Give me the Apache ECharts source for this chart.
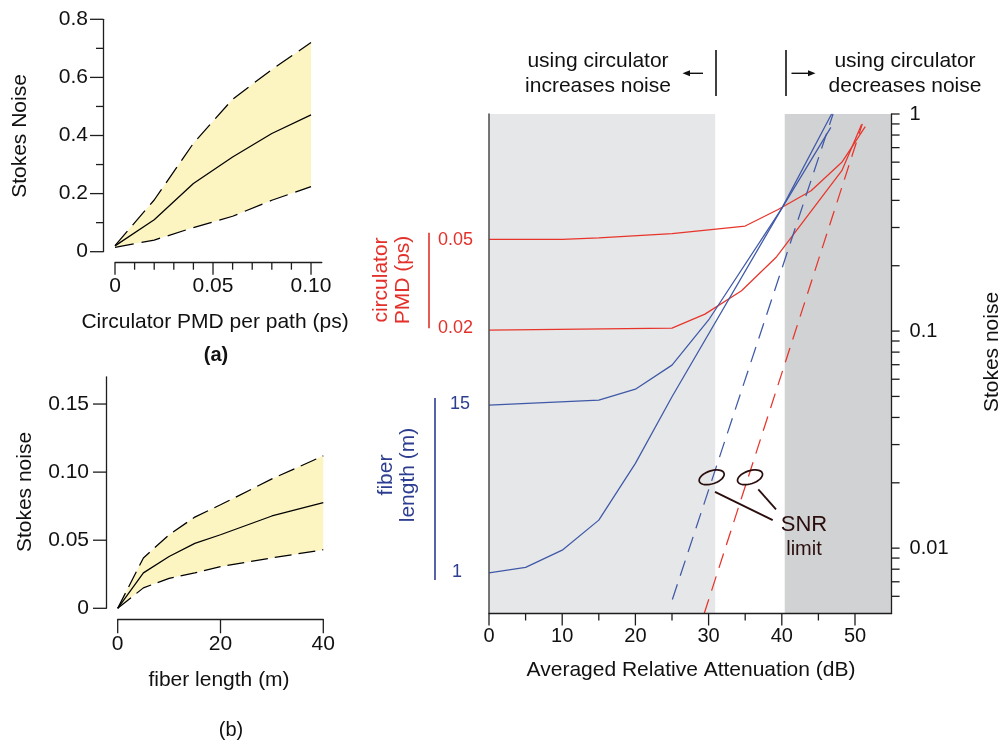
<!DOCTYPE html>
<html><head><meta charset="utf-8">
<script src="https://cdn.jsdelivr.net/npm/echarts@6/dist/echarts.min.js"></script>
<style>html,body{margin:0;padding:0;background:#fff}#c{width:1001px;height:744px}</style>
</head><body><div id="c"></div>
<script>
// ---------- Panel (a) ----------
const aPmd   = [0, 0.02, 0.04, 0.06, 0.08, 0.10];
const aMean  = [0.020, 0.110, 0.235, 0.326, 0.407, 0.471];
const aUpper = [0.021, 0.178, 0.373, 0.525, 0.627, 0.720];
const aLower = [0.015, 0.040, 0.083, 0.122, 0.177, 0.224];
const aXTicks = [0, 0.05, 0.10];
const aXTickLabels = ['0', '0.05', '0.10'];
const aXMinorTicks = [0.01, 0.02, 0.03, 0.04, 0.06, 0.07, 0.08, 0.09];
const aYTicks = [0, 0.2, 0.4, 0.6, 0.8];
const aYTickLabels = ['0', '0.2', '0.4', '0.6', '0.8'];
const aYMinorTicks = [0.1, 0.3, 0.5, 0.7];

// ---------- Panel (b) ----------
const bLen   = [0, 5, 10, 15, 20, 30, 40];
const bMean  = [0, 0.026, 0.038, 0.0477, 0.054, 0.0678, 0.0776];
const bUpper = [0, 0.037, 0.054, 0.067, 0.076, 0.095, 0.112];
const bLower = [0, 0.015, 0.022, 0.026, 0.0306, 0.037, 0.043];
const bXTicks = [0, 20, 40];
const bXTickLabels = ['0', '20', '40'];
const bYTicks = [0, 0.05, 0.10, 0.15];
const bYTickLabels = ['0', '0.05', '0.10', '0.15'];

// ---------- Right panel ----------
const red05 = [[0, 0.2645], [10, 0.2645], [15, 0.2684], [25, 0.2813], [35, 0.3047], [39.5, 0.363], [44, 0.443], [48.2, 0.599], [51.4, 0.874]];
const red02 = [[0, 0.1011], [25, 0.1032], [29.5, 0.1197], [34.5, 0.1534], [39.3, 0.220], [48.2, 0.548], [50.9, 0.895]];
const blue15 = [[0, 0.0456], [15, 0.0481], [20, 0.054], [25, 0.0697], [30, 0.1125], [40, 0.3675], [46.7, 0.868]];
const blue1 = [[0, 0.00769], [5, 0.00815], [10, 0.00979], [15, 0.01346], [20, 0.02457], [25, 0.0498], [40, 0.3675], [46.8, 1.0]];
const blueSnr = [[25.05, 0.0058], [47.0, 1.0]];
const redSnr = [[29.4, 0.0050], [51.0, 0.90]];
const bandStart = [0, 40.4];
const bandEnd = [30.9, 55];
const cXTicks = [0, 10, 20, 30, 40, 50];
const cXTickLabels = ['0', '10', '20', '30', '40', '50'];
const cXMinorTicks = [5, 15, 25, 35, 45];
const cYTicks = [1, 0.1, 0.01];
const cYTickLabels = ['1', '0.1', '0.01'];
const cYMinorTicks = [0.9, 0.8, 0.7, 0.6, 0.5, 0.4, 0.3, 0.2, 0.09, 0.08, 0.07, 0.06, 0.05, 0.04, 0.03, 0.02, 0.009, 0.008, 0.007, 0.006];
const snrLoops = [[30.42, 0.0212], [35.66, 0.0212]];
const snrLeaders = [[[30.87, 0.01817], [38.76, 0.01346]], [[36.79, 0.01864], [39.21, 0.01508]]];
const snrText = [[43.03, 0.01286, 'SNR'], [43.03, 0.00986, 'limit']];

// ---------- styles ----------
const FONT = '"Liberation Sans", Arial, Helvetica, sans-serif';
const AXIS = '#1e1e1e';
const YELLOW = '#fcf4c1';
const RED = '#e8352b';
const BLUE = '#3f59a8';
const BLUE_TXT = '#2d3d90';
const RED_TXT = '#e3302a';
const BROWN = '#2a0d0d';

function labelFor(ticks, labels) {
  return function (v) {
    for (let i = 0; i < ticks.length; i++) {
      if (Math.abs(v - ticks[i]) <= 1e-9 + Math.abs(ticks[i]) * 1e-6) return labels[i];
    }
    return '';
  };
}

function tickSeries(xi, yi, pts, dir, off) {
  return {
    type: 'custom', xAxisIndex: xi, yAxisIndex: yi, clip: false, silent: true, z: 6,
    data: pts,
    renderItem: function (params, api) {
      const p = api.coord([api.value(0), api.value(1)]);
      const L = api.value(2);
      let s;
      if (dir === 'down') s = { x1: p[0], y1: p[1] + off, x2: p[0], y2: p[1] + off + L };
      else if (dir === 'left') s = { x1: p[0] - off, y1: p[1], x2: p[0] - off - L, y2: p[1] };
      else s = { x1: p[0] + off, y1: p[1], x2: p[0] + off + L, y2: p[1] };
      return { type: 'line', shape: s, style: { stroke: AXIS, lineWidth: 1.3 } };
    }
  };
}

function bandFill(xi, yi, xs, up, lo) {
  return {
    type: 'custom', xAxisIndex: xi, yAxisIndex: yi, clip: false, silent: true, z: 1,
    data: [[xs[0], lo[0]]],
    renderItem: function (params, api) {
      const top = xs.map((x, i) => api.coord([x, up[i]]));
      const bot = xs.map((x, i) => api.coord([x, lo[i]])).reverse();
      return { type: 'polygon', shape: { points: top.concat(bot) }, style: { fill: YELLOW } };
    }
  };
}

function lineSeries(xi, yi, data, color, dash) {
  return {
    type: 'line', xAxisIndex: xi, yAxisIndex: yi, data: data, symbol: 'none', showSymbol: false,
    smooth: false, clip: false, silent: true, z: 4, animation: false,
    lineStyle: { color: color, width: 1.25, type: dash || 'solid' }
  };
}

const zip = (xs, ys) => xs.map((x, i) => [x, ys[i]]);

const axisLineStyle = { show: true, onZero: false, lineStyle: { color: AXIS, width: 1.3 } };
const noSplit = { show: false };

const option = {
  animation: false,
  backgroundColor: '#fff',
  textStyle: { fontFamily: FONT },
  grid: [
    { left: 115, top: 19.3, width: 206.8, height: 232.4, outerBoundsMode: 'none' },
    { left: 117.7, top: 376.8, width: 205.6, height: 231.5, outerBoundsMode: 'none' },
    { left: 489, top: 114, width: 402.6, height: 499.5, outerBoundsMode: 'none' }
  ],
  xAxis: [
    { gridIndex: 0, type: 'value', min: 0, max: 0.1055, interval: 0.05, offset: 11, z: 10,
      axisLine: axisLineStyle, axisTick: { show: false }, splitLine: noSplit,
      axisLabel: { margin: 13, fontSize: 21, color: '#111', fontFamily: FONT, formatter: labelFor(aXTicks, aXTickLabels) } },
    { gridIndex: 1, type: 'value', min: 0, max: 40, interval: 20, offset: 11, z: 10,
      axisLine: axisLineStyle, axisTick: { show: false }, splitLine: noSplit,
      axisLabel: { margin: 14, fontSize: 21, color: '#111', fontFamily: FONT, formatter: labelFor(bXTicks, bXTickLabels) } },
    { gridIndex: 2, type: 'value', min: 0, max: 55, interval: 10, z: 10,
      axisLine: axisLineStyle, axisTick: { show: false }, splitLine: noSplit,
      axisLabel: { margin: 13, fontSize: 20, color: '#111', fontFamily: FONT, formatter: labelFor(cXTicks, cXTickLabels) } }
  ],
  yAxis: [
    { gridIndex: 0, type: 'value', min: 0, max: 0.8, interval: 0.2, offset: 12, z: 10,
      axisLine: axisLineStyle, axisTick: { show: false }, splitLine: noSplit,
      axisLabel: { margin: 15, fontSize: 21, color: '#111', fontFamily: FONT, formatter: labelFor(aYTicks, aYTickLabels) } },
    { gridIndex: 1, type: 'value', min: 0, max: 0.17, interval: 0.05, offset: 11.7, z: 10,
      axisLine: axisLineStyle, axisTick: { show: false }, splitLine: noSplit,
      axisLabel: { margin: 17, fontSize: 21, color: '#111', fontFamily: FONT, formatter: labelFor(bYTicks, bYTickLabels) } },
    { gridIndex: 2, type: 'log', logBase: 10, min: 0.005, max: 1, position: 'right', z: 10,
      axisLine: axisLineStyle, axisTick: { show: false }, splitLine: noSplit, minorTick: { show: false },
      axisLabel: { margin: 18, fontSize: 20, color: '#111', fontFamily: FONT, formatter: labelFor(cYTicks, cYTickLabels) } },
    { gridIndex: 2, type: 'value', min: 0, max: 1, position: 'left', z: 10,
      axisLine: { show: true, onZero: false, lineStyle: { color: '#4a4a4a', width: 1.5 } },
      axisTick: { show: false }, axisLabel: { show: false }, splitLine: noSplit }
  ],
  series: [
    // panel (a)
    bandFill(0, 0, aPmd, aUpper, aLower),
    lineSeries(0, 0, zip(aPmd, aUpper), '#000', [19, 8]),
    lineSeries(0, 0, zip(aPmd, aLower), '#000', [19, 8]),
    lineSeries(0, 0, zip(aPmd, aMean), '#000'),
    tickSeries(0, 0, aXTicks.map(v => [v, 0, 12]).concat(aXMinorTicks.map(v => [v, 0, 7])), 'down', 11),
    tickSeries(0, 0, aYTicks.map(v => [0, v, 13]).concat(aYMinorTicks.map(v => [0, v, 7])), 'left', 12),
    // panel (b)
    bandFill(1, 1, bLen, bUpper, bLower),
    lineSeries(1, 1, zip(bLen, bUpper), '#000', [17, 7]),
    lineSeries(1, 1, zip(bLen, bLower), '#000', [17, 7]),
    lineSeries(1, 1, zip(bLen, bMean), '#000'),
    tickSeries(1, 1, bXTicks.map(v => [v, 0, 14]), 'down', 11),
    tickSeries(1, 1, bYTicks.map(v => [0, v, 13]), 'left', 11.7),
    // right panel shading
    {
      type: 'custom', xAxisIndex: 2, yAxisIndex: 2, clip: false, silent: true, z: 0,
      data: bandStart.map((s, i) => [s, bandEnd[i]]),
      renderItem: function (params, api) {
        const p0 = api.coord([api.value(0), 1]);
        const p1 = api.coord([api.value(1), 0.005]);
        return { type: 'rect', shape: { x: p0[0], y: p0[1], width: p1[0] - p0[0], height: p1[1] - p0[1] },
          style: { fill: params.dataIndex === 0 ? '#e6e7e8' : '#d1d2d4' } };
      }
    },
    lineSeries(2, 2, red05, RED),
    lineSeries(2, 2, red02, RED),
    lineSeries(2, 2, blue15, BLUE),
    lineSeries(2, 2, blue1, BLUE),
    lineSeries(2, 2, blueSnr, BLUE, [16, 9]),
    lineSeries(2, 2, redSnr, RED, [15, 9]),
    tickSeries(2, 2, cXTicks.map(v => [v, 0.005, 12]).concat(cXMinorTicks.map(v => [v, 0.005, 7])), 'down', 0),
    tickSeries(2, 2, cYTicks.concat(cYMinorTicks).map(v => [55, v, 8]), 'right', 0),
    // SNR annotation
    {
      type: 'custom', xAxisIndex: 2, yAxisIndex: 2, clip: false, silent: true, z: 7,
      data: [[snrLoops[0][0], snrLoops[0][1]]],
      renderItem: function (params, api) {
        const children = [];
        snrLoops.forEach(c => {
          const p = api.coord(c);
          const pts = [];
          const rot = -0.32;
          for (let k = 0; k <= 40; k++) {
            const t = k / 40 * Math.PI * 2;
            const ex = 13 * Math.cos(t), ey = 6.5 * Math.sin(t);
            pts.push([p[0] + ex * Math.cos(rot) - ey * Math.sin(rot), p[1] + ex * Math.sin(rot) + ey * Math.cos(rot)]);
          }
          children.push({ type: 'polyline', shape: { points: pts }, style: { stroke: BROWN, lineWidth: 1.7, fill: null } });
        });
        snrLeaders.forEach(l => {
          const a = api.coord(l[0]), b = api.coord(l[1]);
          children.push({ type: 'line', shape: { x1: a[0], y1: a[1], x2: b[0], y2: b[1] }, style: { stroke: BROWN, lineWidth: 1.8 } });
        });
        snrText.forEach((t, i) => {
          const p = api.coord([t[0], t[1]]);
          children.push({ type: 'text', x: p[0], y: p[1], style: { text: t[2], fill: BROWN, font: (i === 0 ? '22px ' : '20px ') + FONT, align: 'center', verticalAlign: 'middle' } });
        });
        return { type: 'group', children: children };
      }
    }
  ],
  graphic: [
    // panel (a) texts
    { type: 'text', x: 20, y: 136, rotation: Math.PI / 2, style: { text: 'Stokes Noise', font: '21px ' + FONT, fill: '#111', align: 'center', verticalAlign: 'middle' } },
    { type: 'text', x: 215, y: 322, style: { text: 'Circulator PMD per path (ps)', font: '21px ' + FONT, fill: '#111', align: 'center', verticalAlign: 'middle' } },
    { type: 'text', x: 216, y: 355, style: { text: '(a)', font: 'bold 20px ' + FONT, fill: '#111', align: 'center', verticalAlign: 'middle' } },
    // panel (b) texts
    { type: 'text', x: 25, y: 492, rotation: Math.PI / 2, style: { text: 'Stokes noise', font: '21px ' + FONT, fill: '#111', align: 'center', verticalAlign: 'middle' } },
    { type: 'text', x: 219, y: 680, style: { text: 'fiber length (m)', font: '21px ' + FONT, fill: '#111', align: 'center', verticalAlign: 'middle' } },
    { type: 'text', x: 231, y: 730, style: { text: '(b)', font: '20px ' + FONT, fill: '#111', align: 'center', verticalAlign: 'middle' } },
    // right panel texts
    { type: 'text', x: 691, y: 670, style: { text: 'Averaged Relative Attenuation (dB)', font: '21px ' + FONT, fill: '#111', align: 'center', verticalAlign: 'middle' } },
    { type: 'text', x: 992, y: 352, rotation: Math.PI / 2, style: { text: 'Stokes noise', font: '21px ' + FONT, fill: '#111', align: 'center', verticalAlign: 'middle' } },
    { type: 'text', x: 598, y: 74, style: { text: 'using circulator\nincreases noise', font: '21px ' + FONT, lineHeight: 25, fill: '#111', align: 'center', verticalAlign: 'middle' } },
    { type: 'text', x: 905, y: 74, style: { text: 'using circulator\ndecreases noise', font: '21px ' + FONT, lineHeight: 25, fill: '#111', align: 'center', verticalAlign: 'middle' } },
    { type: 'line', shape: { x1: 716, y1: 50, x2: 716, y2: 96 }, style: { stroke: '#111', lineWidth: 1.6 } },
    { type: 'line', shape: { x1: 786, y1: 50, x2: 786, y2: 96 }, style: { stroke: '#111', lineWidth: 1.6 } },
    { type: 'line', shape: { x1: 688, y1: 73.3, x2: 703, y2: 73.3 }, style: { stroke: '#111', lineWidth: 1.4 } },
    { type: 'polygon', shape: { points: [[682.5, 73.3], [690, 70.3], [690, 76.3]] }, style: { fill: '#111' } },
    { type: 'line', shape: { x1: 791.5, y1: 73.3, x2: 810, y2: 73.3 }, style: { stroke: '#111', lineWidth: 1.4 } },
    { type: 'polygon', shape: { points: [[815.5, 73.3], [808, 70.3], [808, 76.3]] }, style: { fill: '#111' } },
    // side legends
    { type: 'text', x: 392.5, y: 280, rotation: Math.PI / 2, style: { text: 'circulator\nPMD (ps)', font: '21px ' + FONT, lineHeight: 22, fill: RED_TXT, align: 'center', verticalAlign: 'middle' } },
    { type: 'line', shape: { x1: 429, y1: 232.7, x2: 429, y2: 328.3 }, style: { stroke: RED_TXT, lineWidth: 1.6 } },
    { type: 'text', x: 438, y: 240, style: { text: '0.05', font: '18px ' + FONT, fill: RED_TXT, align: 'left', verticalAlign: 'middle' } },
    { type: 'text', x: 438, y: 328, style: { text: '0.02', font: '18px ' + FONT, fill: RED_TXT, align: 'left', verticalAlign: 'middle' } },
    { type: 'text', x: 397, y: 475, rotation: Math.PI / 2, style: { text: 'fiber\nlength (m)', font: '21px ' + FONT, lineHeight: 22, fill: BLUE_TXT, align: 'center', verticalAlign: 'middle' } },
    { type: 'line', shape: { x1: 435, y1: 398, x2: 435, y2: 580 }, style: { stroke: BLUE_TXT, lineWidth: 1.6 } },
    { type: 'text', x: 450, y: 404, style: { text: '15', font: '18px ' + FONT, fill: BLUE_TXT, align: 'left', verticalAlign: 'middle' } },
    { type: 'text', x: 457, y: 572, style: { text: '1', font: '18px ' + FONT, fill: BLUE_TXT, align: 'center', verticalAlign: 'middle' } }
  ]
};

const chart = echarts.init(document.getElementById('c'), null, { renderer: 'canvas' });
chart.setOption(option);
</script>
</body></html>
